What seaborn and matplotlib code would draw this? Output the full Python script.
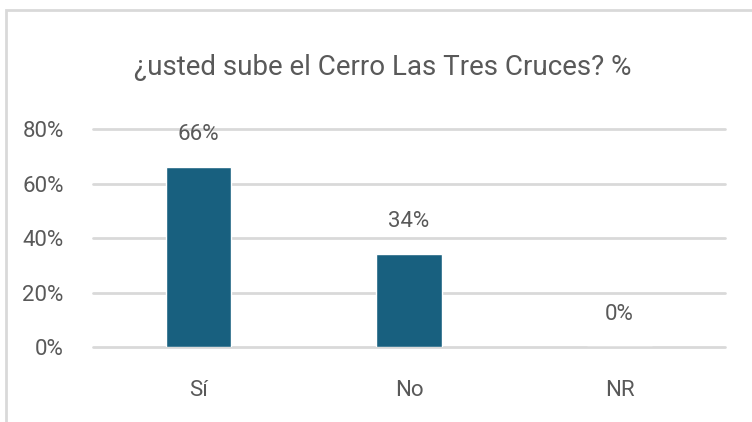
import numpy as np
import pandas as pd
import matplotlib.pyplot as plt
import seaborn as sns
from matplotlib.patches import Rectangle

# data
categorias = ['Sí', 'No', 'NR']
porcentajes = [66, 34, 0]
etiquetas = ['66%', '34%', '0%']
yticks = [0, 20, 40, 60, 80]

df = pd.DataFrame({'respuesta': categorias, 'pct': porcentajes})

sns.set_style('white')
plt.rcParams['font.family'] = ['Roboto', 'DejaVu Sans']
gris = '#595959'

fig = plt.figure(figsize=(7.52, 4.22), dpi=100)
ax = fig.add_axes([0.1237, 0.1777, 0.8403, 0.5166])

sns.barplot(data=df, x='respuesta', y='pct', color='#18607f', width=0.31,
            saturation=1, ax=ax, zorder=3)
ax.set_ylim(0, 80)
ax.set_xlim(-0.5, 2.5)
ax.set_yticks(yticks)
ax.set_yticklabels([f'{t}%' for t in yticks], fontsize=16, color=gris)
ax.tick_params(axis='x', labelsize=16, labelcolor=gris, pad=24, length=0)
ax.tick_params(axis='y', pad=21, length=0)
ax.grid(axis='y', color='#d9d9d9', linewidth=2, zorder=0)
for gl in ax.get_ygridlines():
    gl.set_clip_on(False)
ax.set_xlabel('')
ax.set_ylabel('')
for s in ax.spines.values():
    s.set_visible(False)

for i, (v, t) in enumerate(zip(porcentajes, etiquetas)):
    ax.annotate(t, (i, v), xytext=(0, 16), textcoords='offset points',
                ha='center', va='bottom', fontsize=16, color=gris)

fig.text(0.509, 0.84, '¿usted sube el Cerro Las Tres Cruces? %', ha='center',
         va='center', fontsize=20, color=gris)

# chart frame
fig.patches.append(Rectangle((6 / 752, -0.1), 1.2, 1 - 10 / 422 + 0.1,
                             transform=fig.transFigure, fill=False,
                             edgecolor='#d9d9d9', linewidth=2))

fig.savefig('out.png', dpi=100)
